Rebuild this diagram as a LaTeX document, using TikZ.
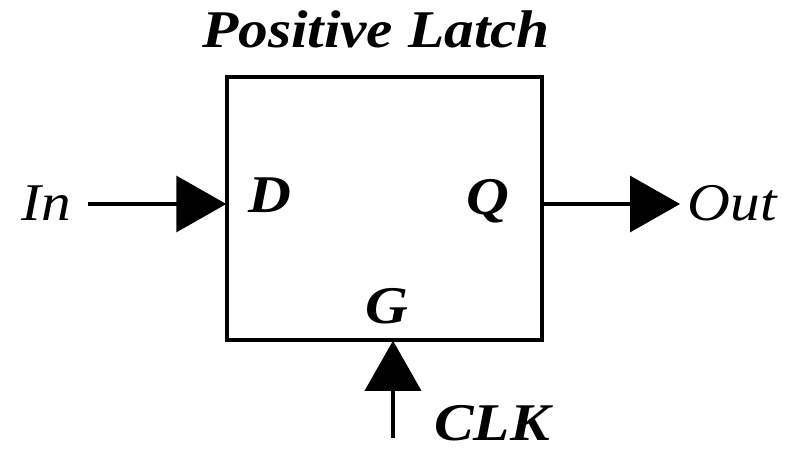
\documentclass[tikz,border=0pt]{standalone}
\usepackage{fontspec}
\setmainfont{Liberation Serif}
\usetikzlibrary{arrows.meta}
\newcommand{\widetxt}[1]{\scalebox{1.12}[1]{#1}}
\begin{document}
\begin{tikzpicture}[x=1pt,y=-1pt,
  wire/.style={line width=3.5pt,-{Triangle[length=50pt,width=56pt]},shorten >=-1pt},
  lbl/.style={font=\fontsize{53}{56}\selectfont\bfseries\itshape,inner sep=0pt,anchor=base},
  ilbl/.style={font=\fontsize{53}{56}\selectfont\itshape,inner sep=0pt,anchor=base}]
\useasboundingbox (0,0) rectangle (786,453);
\node[draw,line width=3.5pt,minimum width=315pt,minimum height=263pt,inner sep=0pt] (box) at (384.5,208.5) {};
\node[lbl] (title) at (376,47) {\widetxt{Positive Latch}};
\node[ilbl] (in) at (46,220) {\widetxt{In}};
\node[ilbl] (out) at (732,220) {\widetxt{Out}};
\node[lbl] (d) at (270,212) {\widetxt{D}};
\node[lbl] (q) at (488,214) {\widetxt{Q}};
\node[lbl] (g) at (387,323) {\widetxt{G}};
\node[lbl] (clk) at (492,440) {\widetxt{CLK}};
\coordinate (inS) at (88,204);
\coordinate (outE) at (680,204);
\coordinate (clkS) at (393,438);
\draw[wire] (inS) -- (inS -| box.west);
\draw[wire,shorten >=0pt] (box.east |- outE) -- (outE);
\draw[wire] (clkS) -- (clkS |- box.south);
\end{tikzpicture}
\end{document}
